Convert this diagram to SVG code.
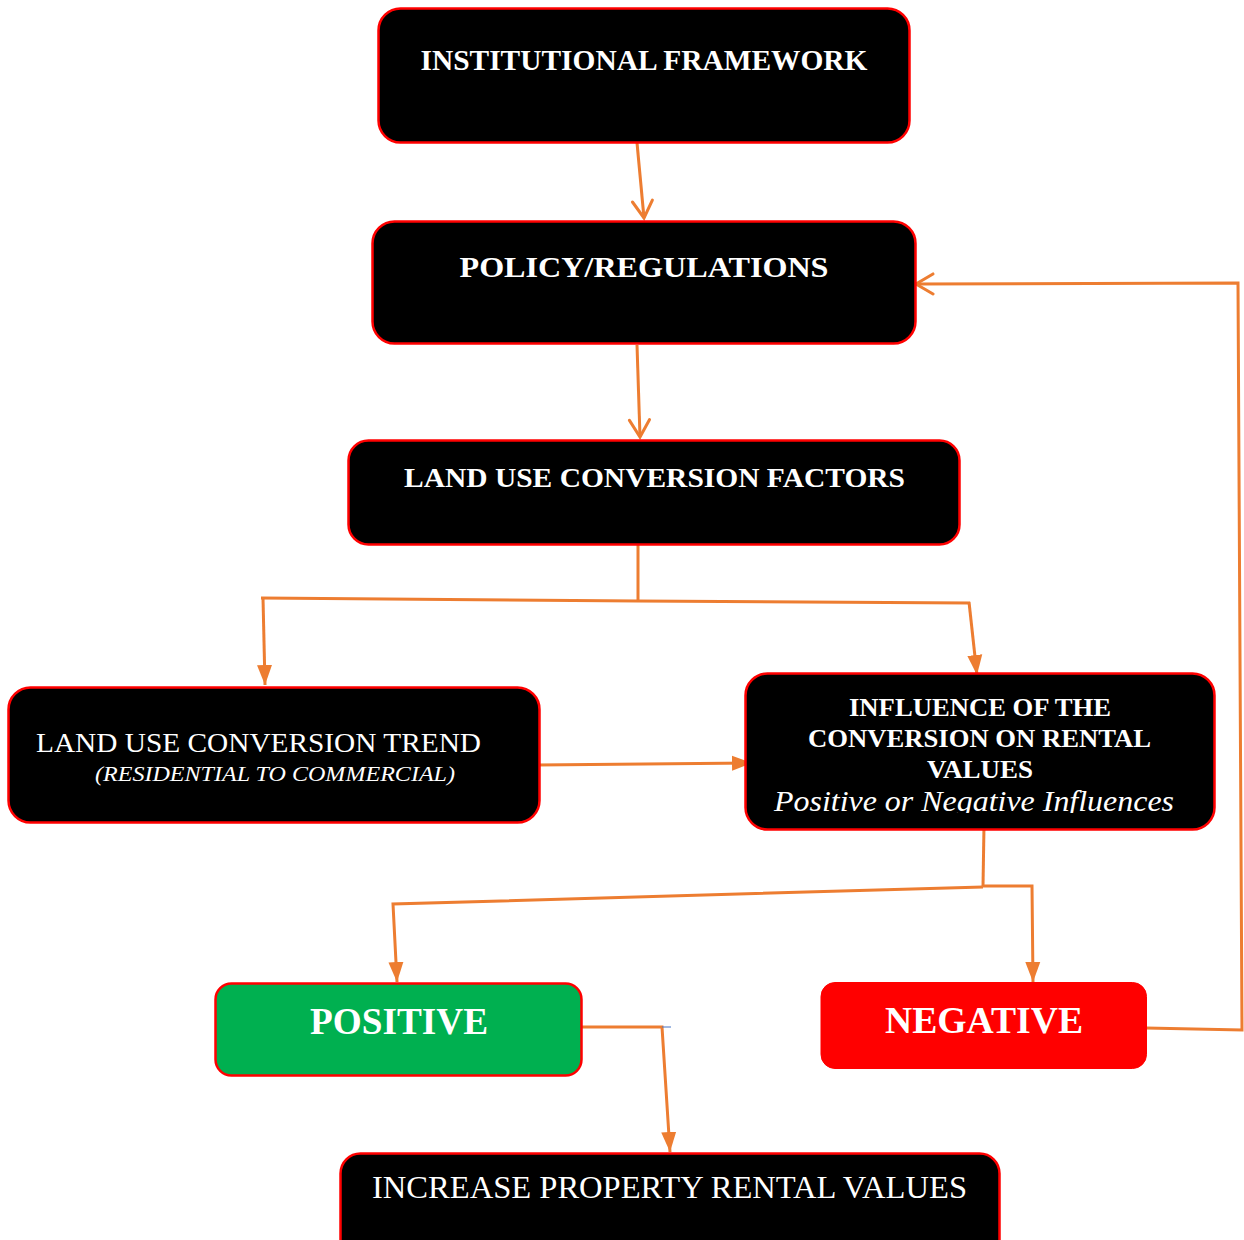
<svg xmlns="http://www.w3.org/2000/svg" width="1244" height="1240" viewBox="0 0 1244 1240">
  <style>
    .box { fill: #000000; stroke: #FF0000; stroke-width: 2.5; }
    .pos { fill: #00B050; stroke: #FF0000; stroke-width: 2.5; }
    .neg { fill: #FF0000; stroke: #FF0000; stroke-width: 1; }
    .t { fill: #FFFFFF; font-family: "Liberation Serif", "Times New Roman", serif; text-anchor: middle; }
    .b { font-weight: bold; }
    .i { font-style: italic; }
    .wire { fill: none; stroke: #ED7D31; stroke-width: 3; stroke-linejoin: miter; stroke-linecap: butt; }
  </style>
  <defs>
    <marker id="open" markerUnits="userSpaceOnUse" markerWidth="26" markerHeight="26" refX="19" refY="12" orient="auto">
      <path d="M2,2 L19,12 L2,22" fill="none" stroke="#ED7D31" stroke-width="3" stroke-linecap="round"/>
    </marker>
    <marker id="solid" markerUnits="userSpaceOnUse" markerWidth="22" markerHeight="18" refX="20" refY="8" orient="auto">
      <path d="M0,0.5 L20,8 L0,15.5 Z" fill="#ED7D31"/>
    </marker>
    <clipPath id="clipInfluence">
      <rect x="746" y="674" width="468" height="139"/>
    </clipPath>
  </defs>

  <!-- connectors -->
  <g id="connectors">
    <path class="wire" d="M636,132 L644,218" marker-end="url(#open)"/>
    <path class="wire" d="M637,345 L640,437" marker-end="url(#open)"/>
    <path class="wire" d="M638,543 L638,601"/>
    <path class="wire" d="M261,598 L638,601 L970,603"/>
    <path class="wire" d="M263,598 L265,685" marker-end="url(#solid)"/>
    <path class="wire" d="M969,602 L977,675" marker-end="url(#solid)"/>
    <path class="wire" d="M537,765 L752,763" marker-end="url(#solid)"/>
    <path class="wire" d="M984,826 L983,886"/>
    <path class="wire" d="M983,887 L393,904 L397,982" marker-end="url(#solid)"/>
    <path class="wire" d="M983,886 L1032,886 L1033,982" marker-end="url(#solid)"/>
    <path class="wire" d="M1146,1028 L1242,1030 L1238,283 L916,284" marker-end="url(#open)"/>
    <path class="wire" d="M582,1027 L662,1027 L670,1152" marker-end="url(#solid)"/>
    <path d="M662,1027 L671,1027" stroke="#4472C4" stroke-width="1" fill="none"/>
  </g>

  <g id="institutional-framework">
    <rect class="box" x="378.5" y="8.5" width="531" height="134" rx="22"/>
    <text class="t b" x="644" y="70" font-size="29" textLength="447" lengthAdjust="spacingAndGlyphs">INSTITUTIONAL FRAMEWORK</text>
  </g>

  <g id="policy-regulations">
    <rect class="box" x="372.5" y="221.5" width="543" height="122" rx="22"/>
    <text class="t b" x="644" y="277" font-size="29" textLength="369" lengthAdjust="spacingAndGlyphs">POLICY/REGULATIONS</text>
  </g>

  <g id="conversion-factors">
    <rect class="box" x="348.5" y="440.5" width="611" height="104" rx="20"/>
    <text class="t b" x="654.5" y="487" font-size="28" textLength="501" lengthAdjust="spacingAndGlyphs">LAND USE CONVERSION FACTORS</text>
  </g>

  <g id="conversion-trend">
    <rect class="box" x="8.5" y="687.5" width="531" height="135" rx="22"/>
    <text class="t" x="258.5" y="752" font-size="28" textLength="445" lengthAdjust="spacingAndGlyphs">LAND USE CONVERSION TREND</text>
    <text class="t i" x="275" y="781" font-size="22" textLength="360" lengthAdjust="spacingAndGlyphs">(RESIDENTIAL TO COMMERCIAL)</text>
  </g>

  <g id="influence-on-rental-values">
    <rect class="box" x="745.5" y="673.5" width="469" height="156" rx="22"/>
    <text class="t b" x="980" y="716" font-size="25" textLength="262" lengthAdjust="spacingAndGlyphs">INFLUENCE OF THE</text>
    <text class="t b" x="979.5" y="747" font-size="25" textLength="343" lengthAdjust="spacingAndGlyphs">CONVERSION ON RENTAL</text>
    <text class="t b" x="980" y="778" font-size="25" textLength="106" lengthAdjust="spacingAndGlyphs">VALUES</text>
    <g clip-path="url(#clipInfluence)">
      <text class="t i" x="974" y="811" font-size="30" textLength="400" lengthAdjust="spacingAndGlyphs">Positive or Negative Influences</text>
    </g>
  </g>

  <g id="positive">
    <rect class="pos" x="215.5" y="983.5" width="366" height="92" rx="16"/>
    <text class="t b" x="399" y="1034" font-size="38" textLength="178" lengthAdjust="spacingAndGlyphs">POSITIVE</text>
  </g>

  <g id="negative">
    <rect class="neg" x="821" y="982.5" width="325.5" height="86" rx="14"/>
    <text class="t b" x="984" y="1033" font-size="38" textLength="198" lengthAdjust="spacingAndGlyphs">NEGATIVE</text>
  </g>

  <g id="increase-rental-values">
    <rect class="box" x="340.5" y="1153.5" width="659" height="110" rx="20"/>
    <text class="t" x="669.5" y="1198" font-size="32" textLength="595" lengthAdjust="spacingAndGlyphs">INCREASE PROPERTY RENTAL VALUES</text>
  </g>
</svg>
